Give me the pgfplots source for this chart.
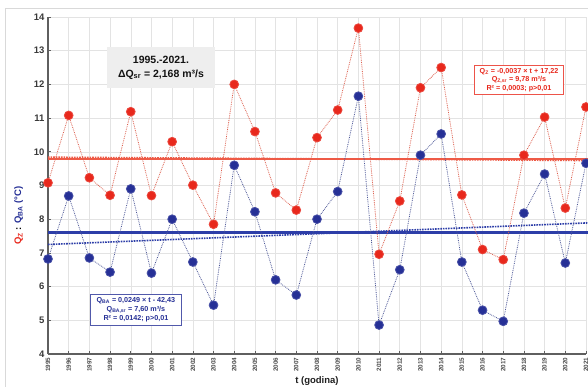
\documentclass[border=0pt]{standalone}
\usepackage{fontspec}
\setmainfont{Liberation Sans}
\usepackage{pgfplots}
\usepackage{pgfplotstable}
\pgfplotsset{compat=1.18}

\definecolor{zred}{RGB}{232,40,28}
\definecolor{zredline}{RGB}{238,90,70}
\definecolor{zblue}{RGB}{38,48,150}
\definecolor{zblueline}{RGB}{45,62,168}
\definecolor{axisgray}{RGB}{95,95,95}

% annual values: Q_Z (red) and Q_BA (blue)
\pgfplotstableread{
year qz qba
1995 9.08 6.82
1996 11.08 8.69
1997 9.23 6.85
1998 8.71 6.43
1999 11.19 8.90
2000 8.70 6.40
2001 10.30 8.00
2002 9.01 6.73
2003 7.85 5.45
2004 12.00 9.60
2005 10.60 8.22
2006 8.78 6.20
2007 8.27 5.75
2008 10.42 8.00
2009 11.24 8.82
2010 13.67 11.65
2011 6.96 4.86
2012 8.54 6.50
2013 11.90 9.90
2014 12.50 10.53
2015 8.72 6.73
2016 7.10 5.30
2017 6.80 4.97
2018 9.90 8.18
2019 11.03 9.34
2020 8.33 6.70
2021 11.33 9.66
}\flowdata

\begin{document}
\begin{tikzpicture}[x=1pt,y=1pt]
\clip (0,0) rectangle (588,387);
\fill[white] (0,0) rectangle (588,387);
\draw[gray!30, line width=0.8pt] (5,-5) -- (5,379) -- (600,379);
\begin{axis}[
  at={(48pt,33pt)}, anchor=south west,
  scale only axis, width=538pt, height=337pt,
  xmin=1995, xmax=2021, ymin=4, ymax=14,
  clip=false,
  axis x line*=bottom, axis y line*=left,
  axis line style={axisgray, line width=1.6pt},
  xtick={1995,...,2021}, ytick={4,...,14},
  grid=major,
  major grid style={gray!22, line width=0.5pt},
  major tick length=3pt,
  tick style={axisgray, line width=0.6pt},
  /pgf/number format/1000 sep={},
  /pgf/number format/assume math mode=true,
  xticklabel style={rotate=90, anchor=east, font=\fontsize{6.3}{6.3}\bfseries, text=gray!60!black},
  yticklabel style={font=\fontsize{9.5}{10}\bfseries, text=gray!45!black},
  xlabel={t (godina)},
  xlabel style={font=\fontsize{9.5}{10}\bfseries, text=gray!25!black, yshift=2pt},
  ylabel={\textcolor{zred}{Q\textsubscript{Z}} : \textcolor{zblue}{Q\textsubscript{BA} (°C)}},
  ylabel style={font=\fontsize{9.5}{10}\bfseries, yshift=4pt, xshift=-30pt},
]
% mean values
\addplot[zredline, line width=2.2pt] coordinates {(1995,9.78) (2021.5,9.78)};
\addplot[zblueline, line width=2.6pt] coordinates {(1995,7.60) (2021.5,7.60)};
% linear trends
\addplot[zredline, densely dotted, line width=1.6pt] coordinates {(1995,9.84) (2021.5,9.74)};
\addplot[zblueline, densely dotted, line width=1.6pt] coordinates {(1995,7.25) (2021.5,7.90)};
% annual series
\addplot[zredline!85!gray, densely dotted, line width=0.8pt, mark=*, mark size=4.4pt,
  mark options={solid, fill=zred, draw=zred!85!white}] table[x=year, y=qz]{\flowdata};
\addplot[zblueline!60!gray, densely dotted, line width=0.8pt, mark=*, mark size=4.4pt,
  mark options={solid, fill=zblue, draw=zblue!85!white}] table[x=year, y=qba]{\flowdata};
% annotations
\node[fill=gray!13, font=\fontsize{10.5}{13.5}\bfseries, text=gray!15!black, align=center,
  inner xsep=11pt, inner ysep=9pt] at (axis cs:2000.46,12.49)
  {1995.-2021.\\ ΔQ\textsubscript{sr} = 2,168 m³/s};
\node[draw=zblue!80!white, fill=white, line width=0.9pt, font=\fontsize{7.2}{9}\bfseries,
  text=zblue, align=center, inner xsep=6pt, inner ysep=3pt] at (axis cs:1999.25,5.31)
  {Q\textsubscript{BA} = 0,0249 × t - 42,43\\ Q\textsubscript{BA,sr} = 7,60 m³/s\\ R² = 0,0142; p>0,01};
\node[draw=zred!80!white, fill=white, line width=0.9pt, font=\fontsize{7.2}{8.6}\bfseries,
  text=zred, align=center, inner xsep=5pt, inner ysep=2.5pt] at (axis cs:2017.76,12.13)
  {Q\textsubscript{Z} = -0,0037 × t + 17,22\\ Q\textsubscript{Z,sr} = 9,78 m³/s\\ R² = 0,0003; p>0,01};
\end{axis}
\end{tikzpicture}
\end{document}
